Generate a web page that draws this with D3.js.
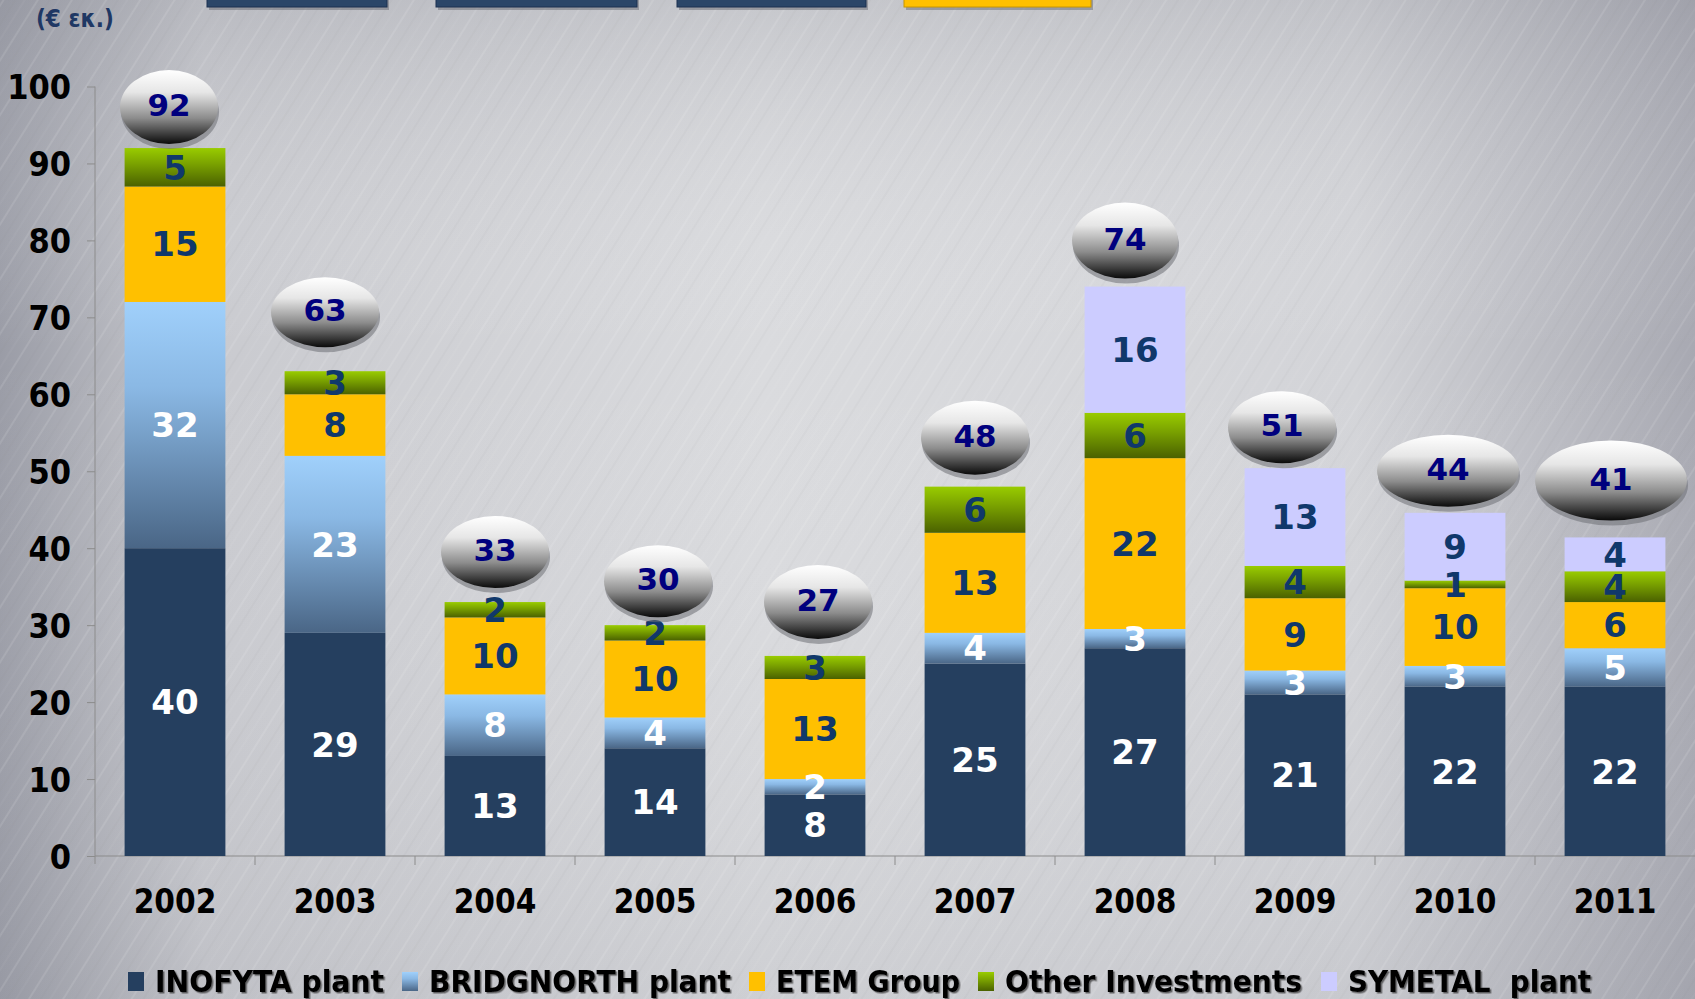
<!DOCTYPE html>
<html>
<head>
<meta charset="utf-8">
<script src="https://cdn.jsdelivr.net/npm/d3@7"></script>
<style>
  html, body { margin: 0; padding: 0; overflow: hidden; background: #cfd0d4; }
  svg { display: block; }
</style>
</head>
<body>
<svg id="chart" width="1695" height="999"></svg>
<script>
// Chart data
var years      = ["2002", "2003", "2004", "2005", "2006", "2007", "2008", "2009", "2010", "2011"];
var inofyta    = [40, 29, 13, 14, 8, 25, 27, 21, 22, 22];
var bridgnorth = [32, 23, 8, 4, 2, 4, 2.5, 3.1, 2.7, 5];
var etem       = [15, 8, 10, 10, 13, 13, 22.2, 9.4, 10.1, 6];
var otherInv   = [5, 3, 2, 2, 3, 6, 5.9, 4.2, 1, 4];
var symetal    = [0, 0, 0, 0, 0, 0, 16.4, 12.7, 8.8, 4.4];
var totals     = [92, 63, 33, 30, 27, 48, 74, 51, 44, 41];
var yTicks     = [0, 10, 20, 30, 40, 50, 60, 70, 80, 90, 100];
var seriesNames = ["INOFYTA plant", "BRIDGNORTH plant", "ETEM Group", "Other Investments", "SYMETAL  plant"];

// Bubble look (size / nudge per bubble, as drawn in the original)
var bubbleRx   = [49, 54, 54, 54, 54, 54, 53, 54, 71, 76];
var bubbleRy   = [37, 35, 36, 36, 37, 37, 38, 36, 36, 40];
var bubbleDx   = [-6, -10, 0, 3, 3, 0, -10, -13, -7, -4];
var bubbleLift = [41, 59, 50, 44, 54, 49, 46, 41, 42, 57];

var W = 1695, H = 999;
var svg = d3.select("#chart");
var defs = svg.append("defs");

/* ==========================================================================
 * Background (brushed metal)
 * ========================================================================== */
var bg = defs.append("linearGradient").attr("id", "bgGrad")
    .attr("x1", "0").attr("x2", "1").attr("y1", "0").attr("y2", "0");
bg.append("stop").attr("offset", "0").attr("stop-color", "#9a9ca6");
bg.append("stop").attr("offset", "0.12").attr("stop-color", "#c9cacf");
bg.append("stop").attr("offset", "0.45").attr("stop-color", "#dadbde");
bg.append("stop").attr("offset", "0.8").attr("stop-color", "#d3d4d8");
bg.append("stop").attr("offset", "1").attr("stop-color", "#a8a9b2");

var bgV = defs.append("linearGradient").attr("id", "bgShade")
    .attr("x1", "0").attr("x2", "0").attr("y1", "0").attr("y2", "1");
bgV.append("stop").attr("offset", "0").attr("stop-color", "#8a8c96").attr("stop-opacity", 0.25);
bgV.append("stop").attr("offset", "0.35").attr("stop-color", "#ffffff").attr("stop-opacity", 0);
bgV.append("stop").attr("offset", "1").attr("stop-color", "#8a8c96").attr("stop-opacity", 0.15);

var pat = defs.append("pattern").attr("id", "brush")
    .attr("width", 29).attr("height", 29)
    .attr("patternUnits", "userSpaceOnUse")
    .attr("patternTransform", "rotate(-58)");
pat.append("line").attr("x1", 0).attr("y1", 3).attr("x2", 29).attr("y2", 3)
    .attr("stroke", "#ffffff").attr("stroke-opacity", 0.1).attr("stroke-width", 2);
pat.append("line").attr("x1", 0).attr("y1", 13).attr("x2", 29).attr("y2", 13)
    .attr("stroke", "#7f818b").attr("stroke-opacity", 0.06).attr("stroke-width", 1.5);
pat.append("line").attr("x1", 0).attr("y1", 21).attr("x2", 29).attr("y2", 21)
    .attr("stroke", "#ffffff").attr("stroke-opacity", 0.07).attr("stroke-width", 1);

svg.append("rect").attr("width", W).attr("height", H).attr("fill", "url(#bgGrad)");
svg.append("rect").attr("width", W).attr("height", H).attr("fill", "url(#bgShade)");
svg.append("rect").attr("width", W).attr("height", H).attr("fill", "url(#brush)");

/* ==========================================================================
 * Gradients for the bars and bubbles
 * ========================================================================== */
function vGrad(id, stops) {
    var g = defs.append("linearGradient").attr("id", id)
        .attr("x1", "0").attr("x2", "0").attr("y1", "0").attr("y2", "1");
    stops.forEach(function(s) {
        g.append("stop").attr("offset", s[0]).attr("stop-color", s[1]);
    });
}
vGrad("gBridg", [[0, "#a0d0fb"], [0.35, "#8ab8e4"], [1, "#4a6686"]]);
vGrad("gOther", [[0, "#99cc00"], [0.4, "#7ba300"], [1, "#4a6100"]]);
vGrad("gBubble", [[0, "#ffffff"], [0.3, "#e6e6e6"], [0.65, "#8c8c8c"], [1, "#0a0a0a"]]);

var shadow = defs.append("filter").attr("id", "txtShadow")
    .attr("x", "-5%").attr("y", "-20%").attr("width", "110%").attr("height", "140%");
shadow.append("feDropShadow").attr("dx", 1.5).attr("dy", 1.5).attr("stdDeviation", 0.6)
    .attr("flood-color", "#333").attr("flood-opacity", 0.7);

var fills = ["#253f5f", "url(#gBridg)", "#ffc000", "url(#gOther)", "#ccccff"];
var labelColors = ["#ffffff", "#ffffff", "#10386b", "#10386b", "#10386b"];

/* ==========================================================================
 * Top (clipped) tabs and unit label
 * ========================================================================== */
var tabs = [[207, 387, "#2b4668"], [436, 637, "#2b4668"], [677, 866, "#2b4668"], [904, 1091, "#ffc000"]];
tabs.forEach(function(t) {
    svg.append("rect").attr("x", t[0] + 2).attr("y", -20).attr("width", t[1] - t[0]).attr("height", 30)
        .attr("fill", "#6a6c74").attr("opacity", 0.5);
    svg.append("rect").attr("x", t[0]).attr("y", -20).attr("width", t[1] - t[0]).attr("height", 27)
        .attr("fill", t[2]).attr("stroke", t[2] === "#ffc000" ? "#c89600" : "#1c3050").attr("stroke-width", 1);
});

svg.append("text").attr("x", 36).attr("y", 27)
    .attr("font-family", "'DejaVu Sans Condensed', 'DejaVu Sans', sans-serif")
    .attr("font-weight", "bold").attr("font-size", 24)
    .attr("fill", "#1f3864").text("(€ εκ.)");

/* ==========================================================================
 * Scales and axes
 * ========================================================================== */
var x = d3.scaleBand().domain(years).range([95, 1695]).paddingInner(0.37).paddingOuter(0.185);
var y = d3.scaleLinear().domain([0, 100]).range([856, 86.5]);

var yAxis = svg.append("g").attr("transform", "translate(95,0)")
    .call(d3.axisLeft(y).tickValues(yTicks).tickSize(8).tickPadding(16).tickFormat(d3.format("d")));
yAxis.select(".domain").attr("stroke", "#8c8c8c").attr("d", "M0," + y(100) + "V" + (y(0) + 8));
yAxis.selectAll(".tick line").attr("stroke", "#8c8c8c");
yAxis.selectAll(".tick text")
    .attr("font-family", "'DejaVu Sans Condensed', 'DejaVu Sans', sans-serif")
    .attr("font-weight", "bold").attr("font-size", 34).attr("fill", "#000")
    .attr("dy", "0.36em");

var xAxisG = svg.append("g");
xAxisG.append("line").attr("x1", 95).attr("x2", 1695).attr("y1", y(0)).attr("y2", y(0))
    .attr("stroke", "#8c8c8c").attr("stroke-width", 1.2);
xAxisG.selectAll("line.sep").data(years.slice(1)).enter().append("line").attr("class", "sep")
    .attr("x1", function(d) { return x(d) - x.step() * x.paddingInner() / 2; })
    .attr("x2", function(d) { return x(d) - x.step() * x.paddingInner() / 2; })
    .attr("y1", y(0)).attr("y2", y(0) + 9)
    .attr("stroke", "#8c8c8c");
xAxisG.selectAll("text").data(years).enter().append("text")
    .attr("x", function(d) { return x(d) + x.bandwidth() / 2; })
    .attr("y", 913)
    .attr("text-anchor", "middle")
    .attr("font-family", "'DejaVu Sans Condensed', 'DejaVu Sans', sans-serif")
    .attr("font-weight", "bold").attr("font-size", 33).attr("fill", "#000")
    .text(function(d) { return d; });

/* ==========================================================================
 * Stacked bars
 * ========================================================================== */
var keys = ["inofyta", "bridgnorth", "etem", "other", "symetal"];
var rows = years.map(function(yr, i) {
    return { year: yr, inofyta: inofyta[i], bridgnorth: bridgnorth[i], etem: etem[i],
             other: otherInv[i], symetal: symetal[i] };
});
var stacked = d3.stack().keys(keys)(rows);

var layers = svg.selectAll("g.layer").data(stacked).enter().append("g").attr("class", "layer");
layers.selectAll("rect").data(function(d) { return d; }).enter().append("rect")
    .attr("x", function(d) { return x(d.data.year); })
    .attr("width", x.bandwidth())
    .attr("y", function(d) { return y(d[1]); })
    .attr("height", function(d) { return Math.max(0, y(d[0]) - y(d[1])); })
    .attr("fill", function() { return fills[keys.indexOf(d3.select(this.parentNode).datum().key)]; });

// value labels
stacked.forEach(function(layer, li) {
    svg.append("g").selectAll("text").data(layer.filter(function(d) { return d[1] - d[0] > 0; }))
        .enter().append("text")
        .attr("x", function(d) { return x(d.data.year) + x.bandwidth() / 2; })
        .attr("y", function(d) { return y((d[0] + d[1]) / 2); })
        .attr("dy", "0.36em")
        .attr("text-anchor", "middle")
        .attr("font-family", "'DejaVu Sans', Verdana, sans-serif")
        .attr("font-weight", "bold").attr("font-size", 34)
        .attr("fill", labelColors[li])
        .text(function(d) { return Math.round(d[1] - d[0]); });
});

/* ==========================================================================
 * Total bubbles
 * ========================================================================== */
var topOf = stacked[stacked.length - 1];
var bubbles = svg.append("g").selectAll("g").data(years).enter().append("g")
    .attr("transform", function(d, i) {
        var cx = x(d) + x.bandwidth() / 2 + bubbleDx[i];
        var cy = y(topOf[i][1]) - bubbleLift[i];
        return "translate(" + cx + "," + cy + ")";
    });
bubbles.append("ellipse")
    .attr("cx", 1).attr("cy", 5)
    .attr("rx", function(d, i) { return bubbleRx[i]; })
    .attr("ry", function(d, i) { return bubbleRy[i]; })
    .attr("fill", "#6e6f75").attr("opacity", 0.55);
bubbles.append("ellipse")
    .attr("rx", function(d, i) { return bubbleRx[i]; })
    .attr("ry", function(d, i) { return bubbleRy[i]; })
    .attr("fill", "url(#gBubble)");
bubbles.append("text")
    .attr("dy", "0.36em").attr("y", -2)
    .attr("text-anchor", "middle")
    .attr("font-family", "'DejaVu Sans', Verdana, sans-serif")
    .attr("font-weight", "bold").attr("font-size", 31)
    .attr("fill", "#00007e")
    .text(function(d, i) { return totals[i]; });

/* ==========================================================================
 * Legend
 * ========================================================================== */
var legendX     = [128, 402, 749, 978, 1321];
var legendTextW = [229, 302, 184, 297, 243];
var legend = svg.append("g").selectAll("g").data(seriesNames).enter().append("g");
legend.append("rect")
    .attr("x", function(d, i) { return legendX[i]; })
    .attr("y", 972).attr("width", 16).attr("height", 19)
    .attr("fill", function(d, i) { return fills[i]; });
legend.append("text")
    .attr("x", function(d, i) { return legendX[i] + 27; })
    .attr("y", 992)
    .attr("textLength", function(d, i) { return legendTextW[i]; })
    .attr("lengthAdjust", "spacingAndGlyphs")
    .attr("font-family", "'DejaVu Sans Condensed', 'DejaVu Sans', sans-serif")
    .attr("font-weight", "bold").attr("font-size", 30)
    .attr("fill", "#000")
    .attr("filter", "url(#txtShadow)")
    .attr("xml:space", "preserve")
    .text(function(d) { return d; });
</script>
</body>
</html>
